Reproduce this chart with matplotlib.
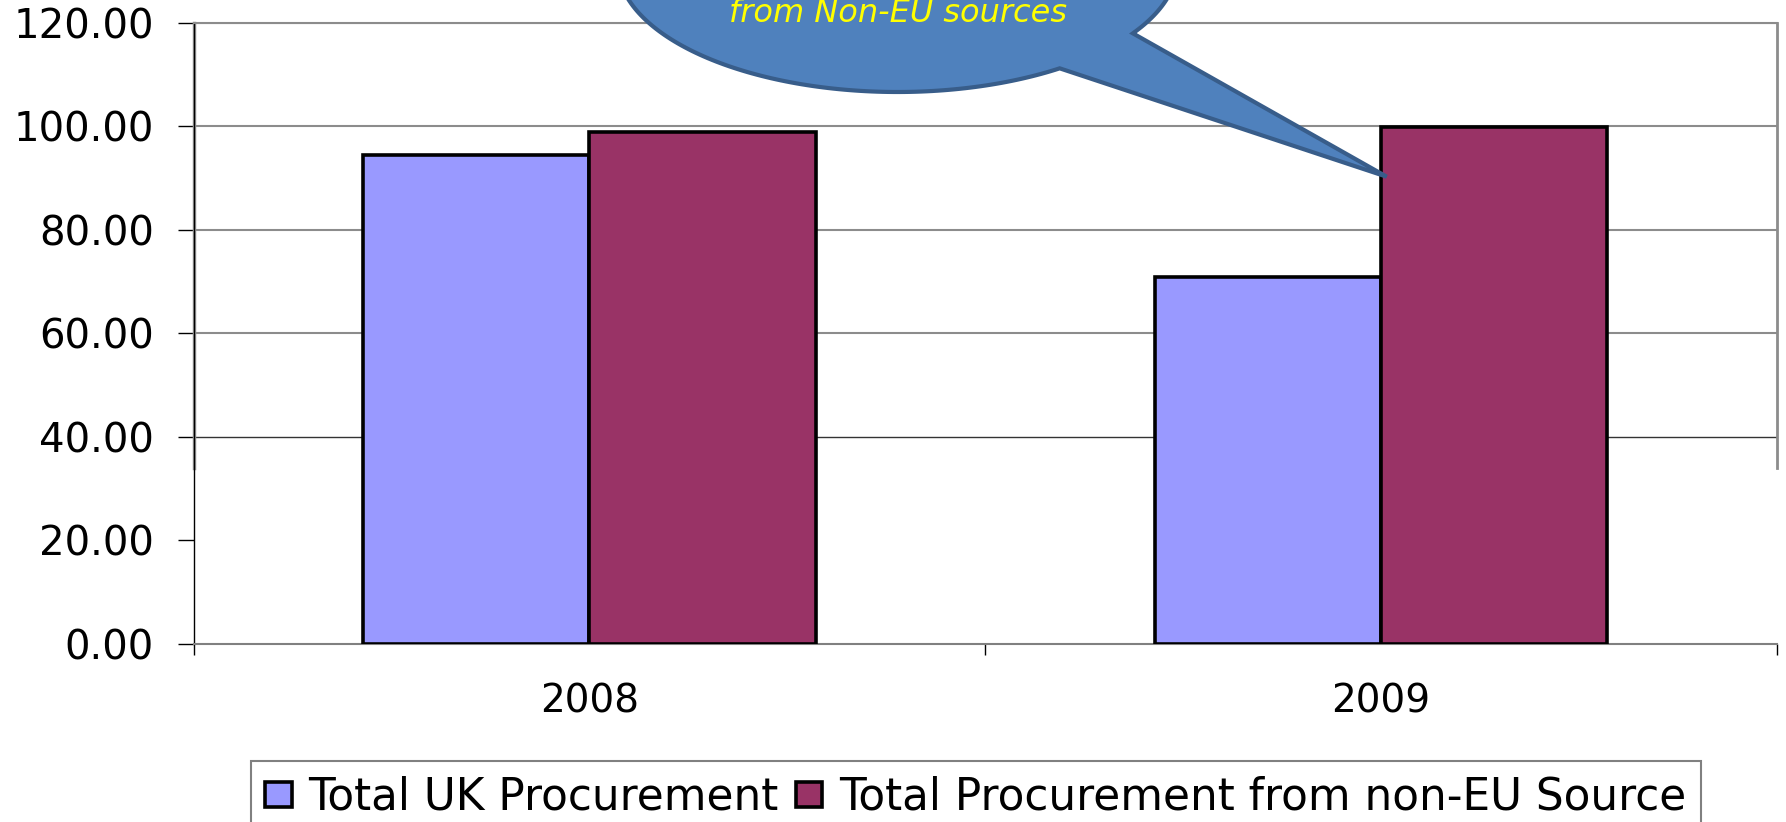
import numpy as np
import matplotlib
matplotlib.use('Agg')
import matplotlib.pyplot as plt
from matplotlib.patches import Polygon

# data
years = ['2008', '2009']
uk_total = [94.4, 70.9]
non_eu = [98.8, 99.8]
series_names = ['Total UK Procurement', 'Total Procurement from non-EU Source']
y_ticks = [0, 20, 40, 60, 80, 100, 120]
callout_text = 'from Non-EU sources'

W, H = 1786, 822
fig = plt.figure(figsize=(W / 100, H / 100), dpi=100)
plt.rcParams['font.family'] = ['DejaVu Sans']

# plot area (pixel box converted to figure fractions)
ax = fig.add_axes([193.6 / W, 1 - 643.5 / H, (1777 - 193.6) / W, (643.5 - 22.8) / H])

x = np.arange(len(years))
bw = 0.2857
b1 = ax.bar(x - bw / 2, uk_total, bw, color='#9999FF', edgecolor='black',
            linewidth=2.6, label=series_names[0], zorder=3)
b2 = ax.bar(x + bw / 2, non_eu, bw, color='#993366', edgecolor='black',
            linewidth=2.6, label=series_names[1], zorder=3)

ax.set_xlim(-0.5, len(years) - 0.5)
ax.set_ylim(y_ticks[0], y_ticks[-1])
ax.set_yticks(y_ticks)
ax.yaxis.set_major_formatter(plt.FormatStrFormatter('%.2f'))
ax.set_xticks(x)
ax.set_xticklabels(years)
ax.set_xticks(np.arange(-0.5, len(years), 1), minor=True)
ax.tick_params(axis='x', which='major', length=0, pad=28, labelsize=28)
ax.tick_params(axis='x', which='minor', length=8, width=1, direction='out', color='black')
ax.tick_params(axis='y', length=11.5, width=1, pad=17, labelsize=29, color='black')

# gridlines: the chart only shows them from 40 upwards, 40 drawn darker
ax.grid(axis='y', color='#8c8c8c', linewidth=1.5)
ax.set_axisbelow(True)
gl = ax.yaxis.get_gridlines()
gl[0].set_visible(False)
gl[1].set_visible(False)
gl[2].set_color('#333333')
gl[2].set_linewidth(1)

# plot area border, only partly drawn in the original
border_lo = 34
ax.spines['top'].set_color('#8c8c8c')
ax.spines['top'].set_linewidth(1.5)
ax.spines['right'].set_color('#8c8c8c')
ax.spines['right'].set_linewidth(2)
ax.spines['right'].set_bounds(border_lo, y_ticks[-1])
ax.spines['bottom'].set_color('#808080')
ax.spines['bottom'].set_linewidth(1.5)
ax.spines['left'].set_color('black')
ax.spines['left'].set_linewidth(1)
ax.axvline(ax.get_xlim()[0], ymin=border_lo / y_ticks[-1], ymax=1,
           color='#9a9a9a', linewidth=2.5, zorder=1, clip_on=False)

leg = fig.legend(handles=[b1, b2], loc='upper left',
                 bbox_to_anchor=(250.6 / W, 1 - 760.7 / H), ncol=2, fontsize=31.5,
                 frameon=True, fancybox=False, edgecolor='#808080', framealpha=1,
                 borderpad=0.34, handlelength=0.6, handleheight=0.5,
                 handletextpad=0.38, columnspacing=0.4, borderaxespad=0)
leg.get_frame().set_linewidth(1.5)

# callout bubble drawn in pixel coordinates on an overlay
ov = fig.add_axes([0, 0, 1, 1])
ov.set_xlim(0, W)
ov.set_ylim(H, 0)
ov.axis('off')
cx, cy, a, b = 897.5, -36, 280, 128
t = np.radians(np.linspace(54.6, 392.8, 300))
pts = np.column_stack([cx + a * np.cos(t), cy + b * np.sin(t)])
pts = np.vstack([pts, [1386.7, 176.7]])
ov.add_patch(Polygon(pts, closed=True, facecolor='#4F81BD', edgecolor='#385D8A',
                     linewidth=3, joinstyle='miter'))
ov.text(898, 22, callout_text, color='#FFFF00', fontsize=23, style='italic',
        ha='center', va='baseline')

fig.savefig('out.png', dpi=100)
